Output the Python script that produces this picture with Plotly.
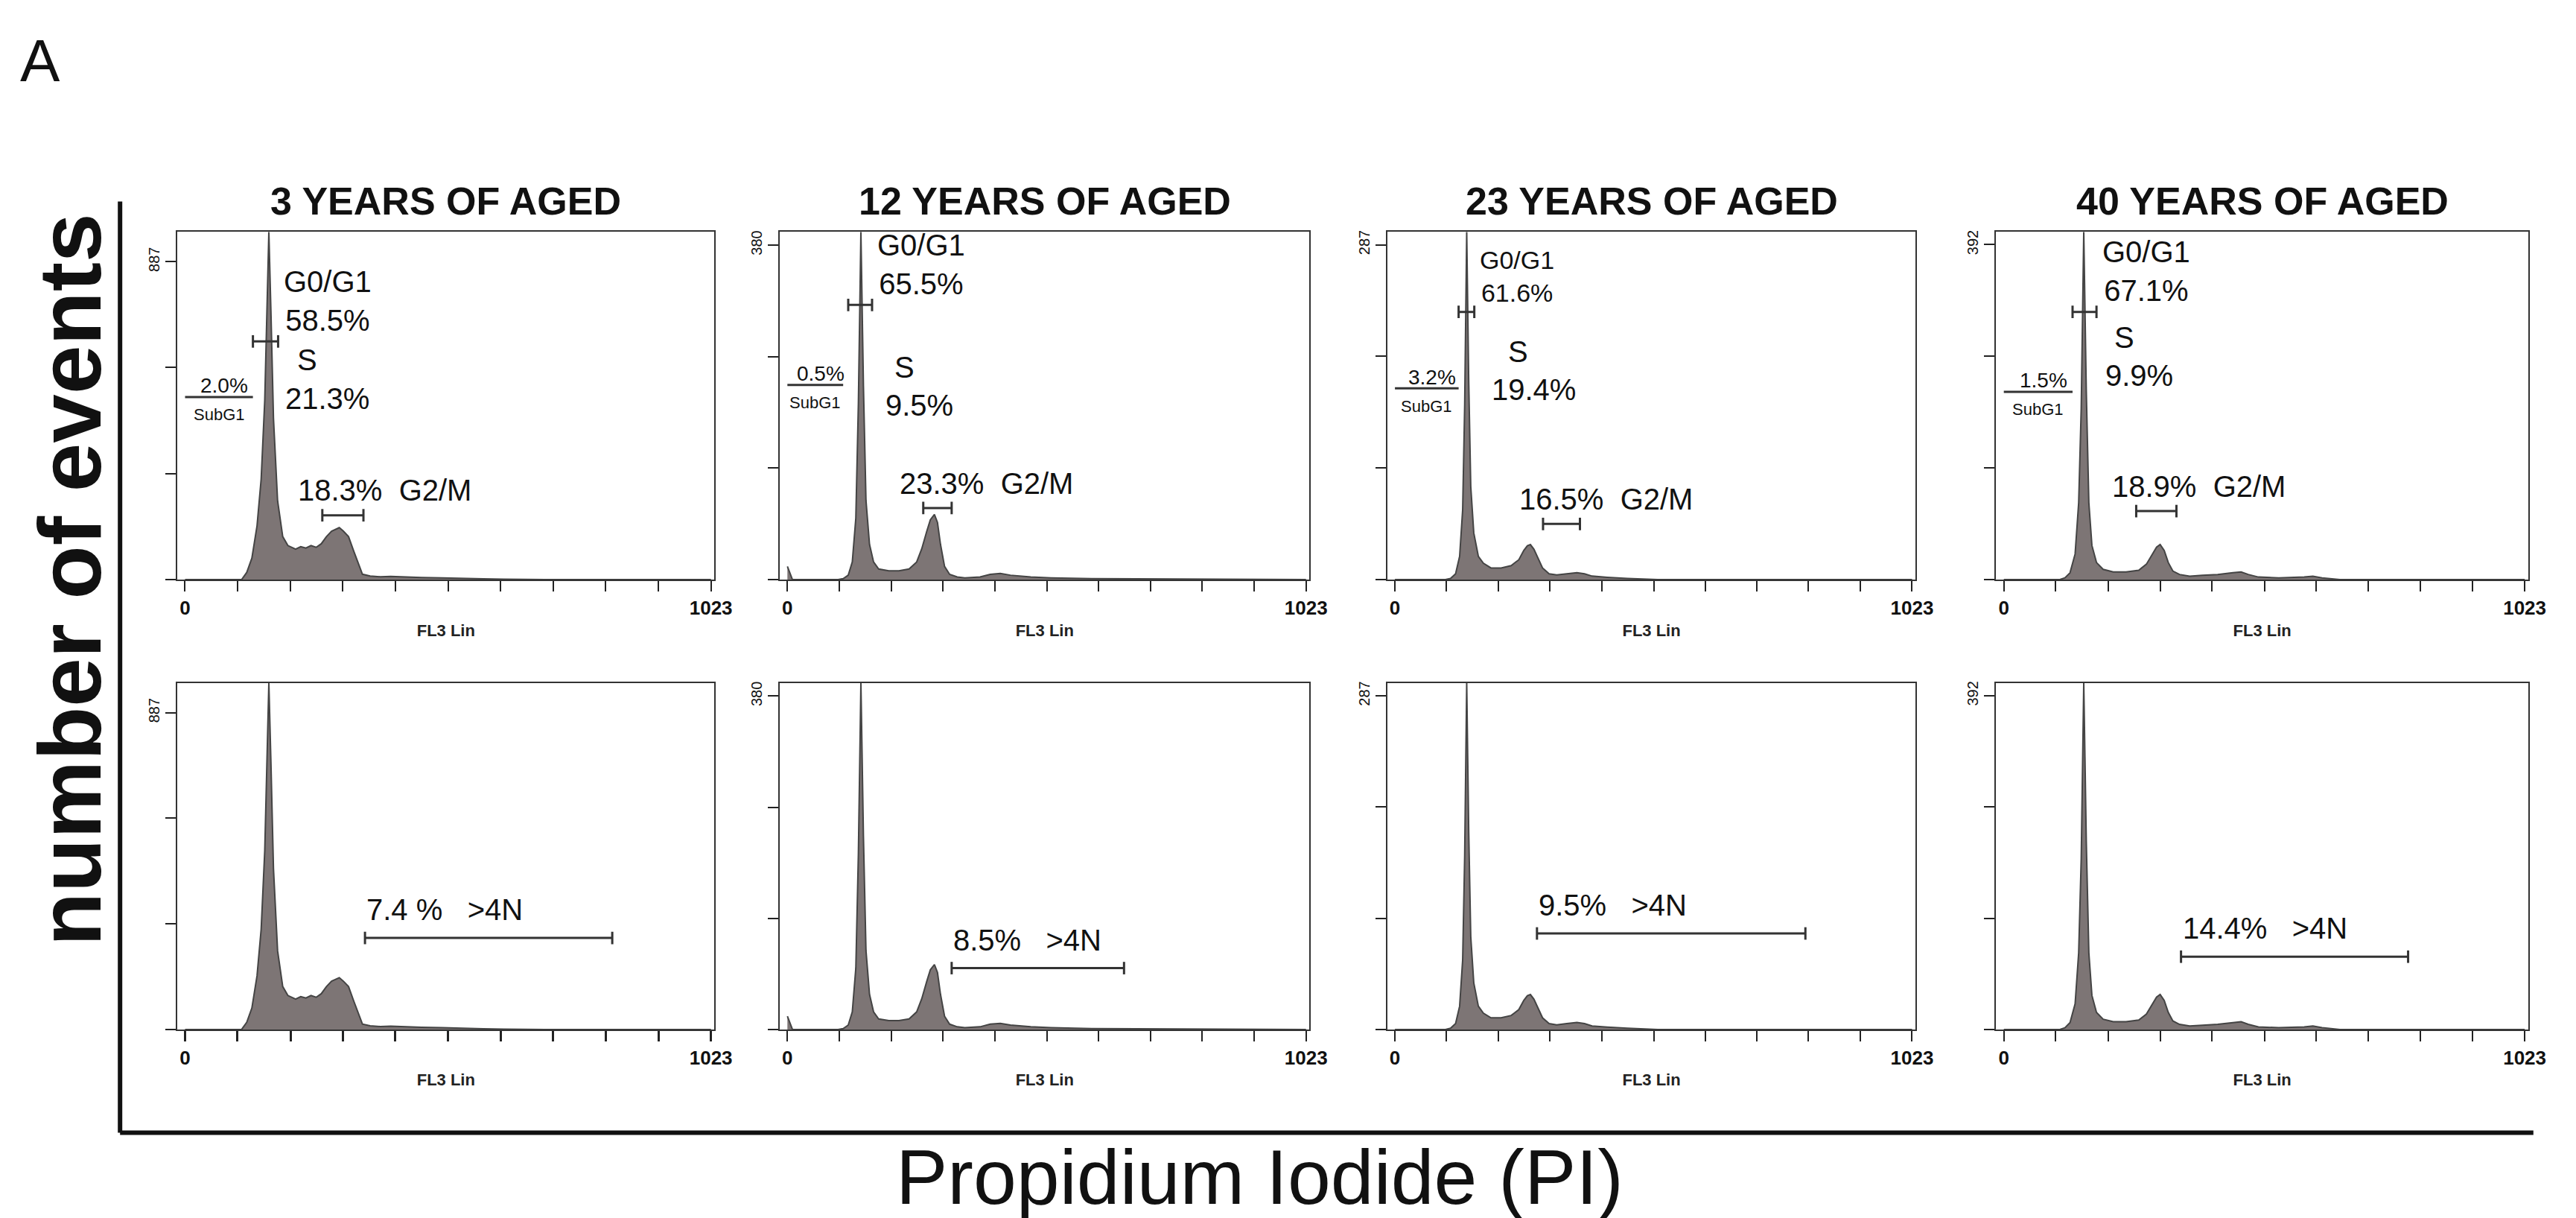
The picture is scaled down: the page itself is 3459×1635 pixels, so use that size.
import plotly.graph_objects as go
from plotly.subplots import make_subplots

ages = ["3 YEARS OF AGED", "12 YEARS OF AGED", "23 YEARS OF AGED", "40 YEARS OF AGED"]
ymax_label = [887, 380, 287, 392]
ytop = [970, 395, 298, 407]

hist_x = [
    [0, 100, 110, 120, 130, 140, 148, 155, 160, 163, 167, 172, 180, 190, 200, 215, 225, 235, 245, 255, 265,
     275, 285, 292, 300, 308, 318, 328, 338, 345, 360, 380, 400, 430, 460, 500, 540, 580, 620, 700, 1023],
    [0, 5, 10, 20, 100, 110, 120, 128, 135, 140, 145, 150, 155, 162, 170, 180, 200, 220, 240, 255, 265,
     275, 282, 290, 296, 302, 310, 320, 335, 350, 380, 400, 420, 440, 480, 520, 600, 1023],
    [0, 100, 110, 120, 128, 134, 138, 142, 146, 150, 156, 165, 175, 190, 210, 230, 245, 255, 262, 268,
     275, 283, 292, 305, 320, 340, 360, 375, 390, 420, 460, 520, 1023],
    [0, 110, 120, 130, 140, 147, 152, 157, 162, 167, 173, 182, 195, 215, 240, 265, 280, 292, 300, 307,
     315, 323, 332, 345, 365, 390, 420, 450, 466, 480, 500, 540, 590, 607, 625, 660, 1023],
]
hist_y = [
    [0, 0, 0, 20, 60, 150, 280, 500, 800, 970, 750, 450, 220, 120, 95, 85, 92, 88, 95, 90, 100,
     120, 135, 140, 145, 135, 120, 80, 40, 15, 10, 8, 9, 7, 6, 5, 3, 2, 1, 0, 0],
    [15, 8, 0, 0, 0, 1, 5, 20, 70, 200, 395, 220, 90, 40, 20, 12, 10, 10, 12, 20, 35,
     55, 68, 74, 65, 40, 15, 6, 3, 2, 3, 6, 7, 5, 3, 2, 1, 0],
    [0, 0, 1, 5, 20, 60, 150, 298, 170, 80, 40, 20, 14, 10, 10, 12, 17, 25, 29, 30,
     26, 18, 10, 5, 4, 5, 6, 5, 3, 2, 1, 0, 0],
    [0, 0, 2, 8, 30, 90, 200, 407, 220, 90, 40, 20, 12, 9, 9, 11, 18, 30, 38, 41,
     34, 20, 10, 6, 4, 5, 6, 8, 9, 6, 3, 2, 3, 4, 2, 0, 0],
]

g1_pct = ["58.5%", "65.5%", "61.6%", "67.1%"]
s_pct = ["21.3%", "9.5%", "19.4%", "9.9%"]
g2_pct = ["18.3%", "23.3%", "16.5%", "18.9%"]
sub_pct = ["2.0%", "0.5%", "3.2%", "1.5%"]
poly_pct = ["7.4 %", "8.5%", "9.5%", "14.4%"]

# gate positions: x in channel units, y as fraction of the panel height
g1_gate = [(132, 181, 0.685), (120, 167, 0.79), (126, 157, 0.77), (135, 182, 0.77)]
s_gate = [(184, 267, 0.43), (183, 252, 0.41), (180, 281, 0.454), (188, 260, 0.495)]
g2_gate = [(267, 347, 0.185), (268, 324, 0.206), (293, 366, 0.16), (260, 339, 0.197)]
sub_gate = [(0, 132, 0.525), (0, 110, 0.56), (0, 126, 0.55), (0, 135, 0.54)]
poly_gate = [(350, 831, 0.264), (324, 664, 0.177), (281, 812, 0.277), (348, 794, 0.21)]

col_dom = [(0.067, 0.277), (0.3025, 0.5096), (0.540, 0.7465), (0.778, 0.986)]
row_dom = [(0.53, 0.816), (0.16, 0.445)]

fig = make_subplots(rows=2, cols=4)
FONT = "Liberation Sans"
fill_col = "#7d7575"

ann = []
shapes = []


def bracket(xr, yr, x0, x1, y, cap=0.018):
    shapes.append(dict(type="line", xref=xr, yref=yr + " domain", x0=x0, x1=x1, y0=y, y1=y,
                       line=dict(color="#333", width=3)))
    for xx in (x0, x1):
        shapes.append(dict(type="line", xref=xr, yref=yr + " domain", x0=xx, x1=xx,
                           y0=y - cap, y1=y + cap, line=dict(color="#333", width=3)))


def text(xr, yr, x, y, s, size=40, xanchor="left", yanchor="bottom"):
    ann.append(dict(xref=xr, yref=yr + " domain", x=x, y=y, text=s, showarrow=False,
                    xanchor=xanchor, yanchor=yanchor, font=dict(size=size, color="#111", family=FONT)))


for c in range(4):
    for r in range(2):
        idx = r * 4 + c + 1
        fig.add_trace(go.Scatter(x=hist_x[c], y=hist_y[c], mode="lines", fill="tozeroy",
                                 fillcolor=fill_col, line=dict(color="#444", width=2),
                                 showlegend=False), row=r + 1, col=c + 1)
        sfx = "" if idx == 1 else str(idx)
        xr, yr = "x" + sfx, "y" + sfx
        v = ymax_label[c]
        fig.layout["xaxis" + sfx].update(
            domain=col_dom[c], range=[-15, 1030], showgrid=False, zeroline=False,
            showline=True, mirror=True, linecolor="#333", linewidth=2,
            ticks="outside", ticklen=14, tickwidth=3 if r == 1 and c == 0 else 2, tickcolor="#222",
            tickvals=[0, 102, 205, 307, 409, 512, 614, 716, 818, 921, 1023],
            ticktext=["<b>0</b>", "", "", "", "", "", "", "", "", "", "<b>1023</b>"],
            tickfont=dict(size=26, family=FONT, color="#111"),
            title=dict(text="<b>FL3 Lin</b>", font=dict(size=22, family=FONT, color="#222"), standoff=8))
        fig.layout["yaxis" + sfx].update(
            domain=row_dom[r], range=[0, ytop[c]], showgrid=False, zeroline=False,
            showline=True, mirror=True, linecolor="#333", linewidth=2,
            ticks="outside", ticklen=14, tickwidth=2, tickcolor="#222",
            tickvals=[0, v / 3, 2 * v / 3, v], ticktext=["", "", "", str(v)], tickangle=-90,
            tickfont=dict(size=20, family=FONT, color="#111"))
        if r == 0:
            a, b, y = g1_gate[c]
            bracket(xr, yr, a, b, y)
            text(xr, yr, b + 8, y + 0.01, "G0/G1<br>" + g1_pct[c], size=40 if c != 2 else 34)
            a, b, y = s_gate[c]
            text(xr, yr, a + 8, y + 0.04, s_pct[c])
            text(xr, yr, (a + b) / 2 - 10, y + 0.15, "S")
            a, b, y = g2_gate[c]
            bracket(xr, yr, a, b, y)
            text(xr, yr, a - 50, y + 0.02, g2_pct[c] + "  G2/M")
            a, b, y = sub_gate[c]
            shapes.append(dict(type="line", xref=xr, yref=yr + " domain", x0=a, x1=b, y0=y, y1=y,
                               line=dict(color="#333", width=3)))
            text(xr, yr, b / 2 + 10, y - 0.005, sub_pct[c], size=28, xanchor="center")
            text(xr, yr, b / 2, y - 0.02, "SubG1", size=22, xanchor="center", yanchor="top")
        else:
            a, b, y = poly_gate[c]
            bracket(xr, yr, a, b, y)
            text(xr, yr, a, y + 0.03, poly_pct[c] + "&nbsp;&nbsp;&nbsp;>4N")

    ann.append(dict(xref="paper", yref="paper", x=sum(col_dom[c]) / 2, y=0.822, text="<b>" + ages[c] + "</b>",
                    showarrow=False, xanchor="center", yanchor="bottom",
                    font=dict(size=52, family=FONT, color="#111")))

# outer axes
shapes.append(dict(type="line", xref="paper", yref="paper", x0=0.0446, x1=0.0446, y0=0.075, y1=0.841,
                   line=dict(color="#111", width=6)))
shapes.append(dict(type="line", xref="paper", yref="paper", x0=0.0446, x1=0.988, y0=0.075, y1=0.075,
                   line=dict(color="#111", width=6)))
ann.append(dict(xref="paper", yref="paper", x=0.025, y=0.53, text="<b>number of events</b>", textangle=-90,
                xanchor="center", yanchor="middle",
                showarrow=False, font=dict(size=118, family=FONT, color="#111")))
ann.append(dict(xref="paper", yref="paper", x=0.49, y=0.002, text="Propidium Iodide (PI)",
                xanchor="center", yanchor="bottom",
                showarrow=False, font=dict(size=104, family=FONT, color="#111")))
ann.append(dict(xref="paper", yref="paper", x=0.005, y=0.985, text="A", xanchor="left", yanchor="top",
                showarrow=False, font=dict(size=80, family=FONT, color="#111")))

fig.update_layout(width=3459, height=1635, margin=dict(l=0, r=0, t=0, b=0),
                  plot_bgcolor="white", paper_bgcolor="white", annotations=ann, shapes=shapes)
fig.write_html("out.html")
